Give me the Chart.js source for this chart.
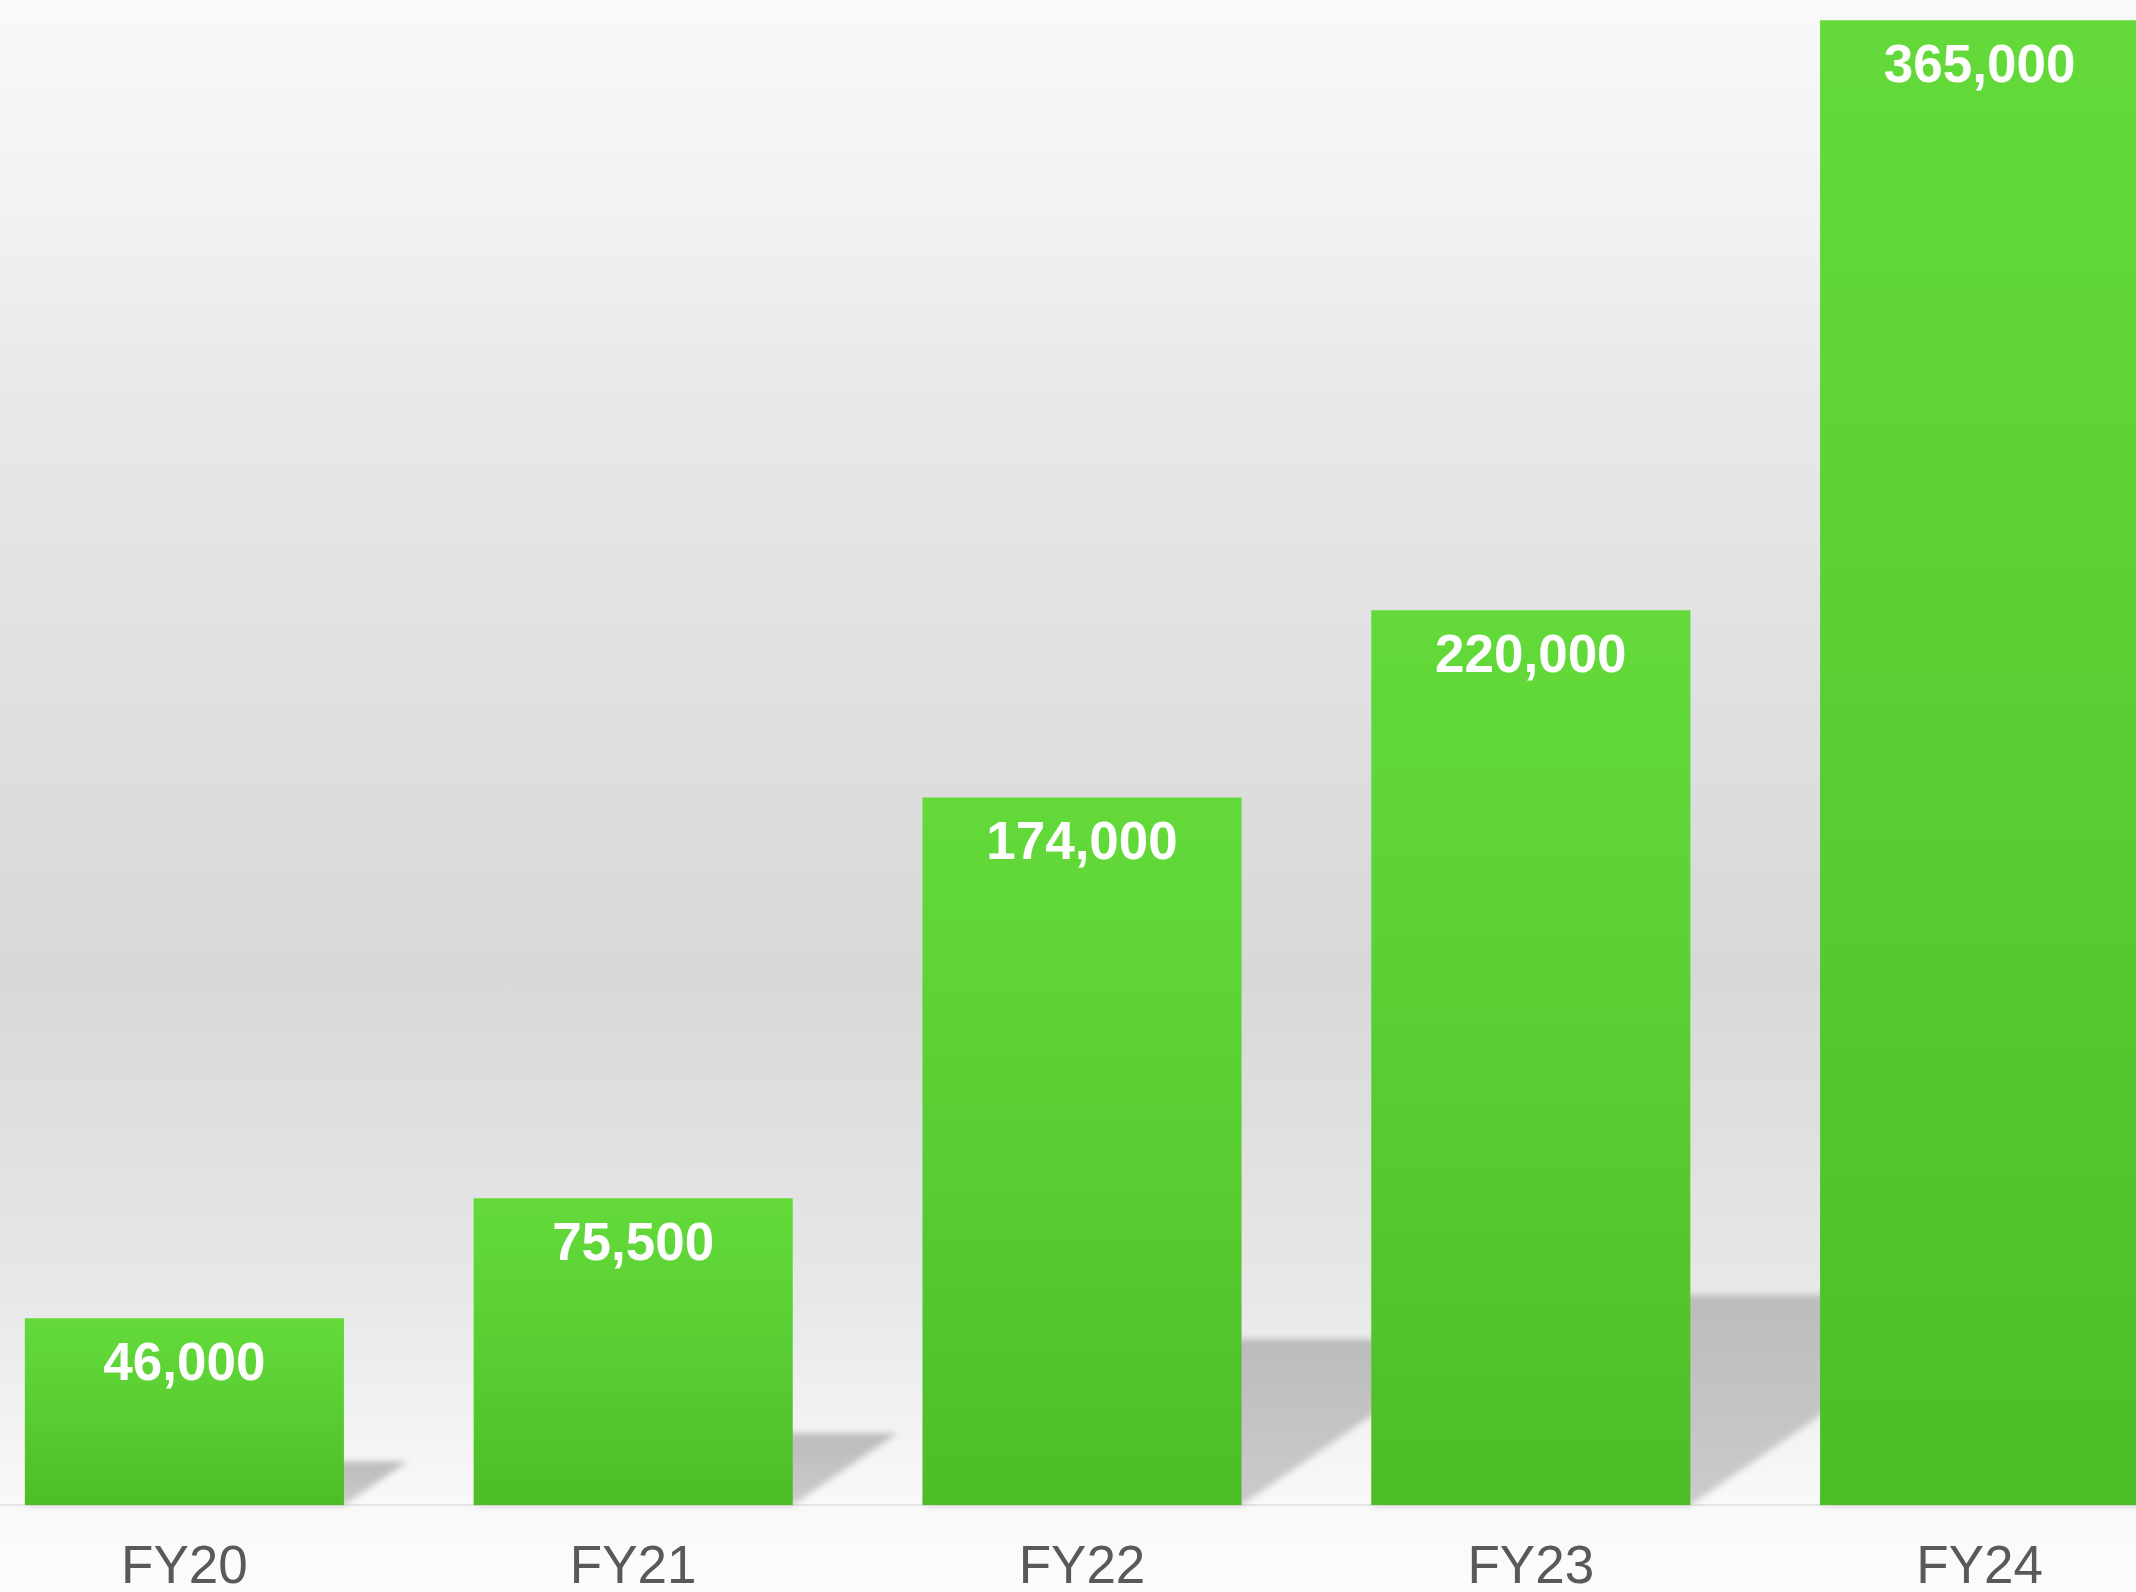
<!DOCTYPE html>
<html>
<head>
<meta charset="utf-8">
<script src="https://cdn.jsdelivr.net/npm/chart.js@4/dist/chart.umd.min.js"></script>
<style>
  html, body { margin: 0; padding: 0; }
  body {
    width: 2136px; height: 1592px; overflow: hidden; position: relative;
    background: linear-gradient(to bottom,
      #f9f9f9 0%, #f2f2f2 12.6%, #e8e8e8 25.1%, #d8d8d8 61.2%,
      #e8e8e8 81.7%, #f9f9f9 94.5%, #fcfcfc 100%);
  }
  #wrap { position: absolute; left: -40.4px; top: 0; width: 2244px; height: 1632px; }
</style>
</head>
<body>
<div id="wrap"><canvas id="c"></canvas></div>
<script>
const categories = ["FY20", "FY21", "FY22", "FY23", "FY24"];
const values = [46000, 75500, 174000, 220000, 365000];
const yMax = 370000;

const FONT = "'Liberation Sans', Arial, sans-serif";

function barGradient(context) {
  const chart = context.chart;
  const area = chart.chartArea;
  if (!area || context.dataIndex === undefined) return '#58c830';
  const ys = chart.scales.y;
  const top = ys.getPixelForValue(context.raw);
  const base = ys.getPixelForValue(0);
  if (!isFinite(top) || !isFinite(base) || base - top < 1) return '#58c830';
  const g = chart.ctx.createLinearGradient(0, top, 0, base);
  g.addColorStop(0, '#63da3a');
  g.addColorStop(0.45, '#5acf33');
  g.addColorStop(1, '#4dbd27');
  return g;
}

const shadowPlugin = {
  id: 'barShadows',
  beforeDatasetsDraw(chart) {
    const ctx = chart.ctx;
    const meta = chart.getDatasetMeta(0);
    ctx.save();
    ctx.filter = 'blur(3px)';
    meta.data.forEach((bar) => {
      const p = bar.getProps(['x', 'y', 'base', 'width'], true);
      const h = p.base - p.y;
      const dy = 0.235 * h;
      const dx = 0.34 * h;
      const left = p.x - p.width / 2;
      const right = p.x + p.width / 2;
      const g = ctx.createLinearGradient(0, p.base - dy, 0, p.base);
      g.addColorStop(0, '#bcbcbc');
      g.addColorStop(1, '#cbcbcb');
      ctx.fillStyle = g;
      ctx.beginPath();
      ctx.moveTo(left, p.base);
      ctx.lineTo(right, p.base);
      ctx.lineTo(right + dx, p.base - dy);
      ctx.lineTo(left + dx, p.base - dy);
      ctx.closePath();
      ctx.fill();
    });
    ctx.restore();
  }
};

const valueLabelPlugin = {
  id: 'valueLabels',
  afterDatasetsDraw(chart) {
    const ctx = chart.ctx;
    const meta = chart.getDatasetMeta(0);
    const ds = chart.data.datasets[0].data;
    ctx.save();
    ctx.font = 'bold 53px ' + FONT;
    ctx.fillStyle = '#ffffff';
    ctx.textAlign = 'center';
    ctx.textBaseline = 'alphabetic';
    meta.data.forEach((bar, i) => {
      const p = bar.getProps(['x', 'y'], true);
      ctx.fillText(ds[i].toLocaleString('en-US'), p.x, p.y + 62);
    });
    ctx.restore();
  }
};

new Chart(document.getElementById('c'), {
  type: 'bar',
  data: {
    labels: categories,
    datasets: [{
      data: values,
      backgroundColor: barGradient,
      borderWidth: 0,
      categoryPercentage: 1.0,
      barPercentage: 0.711
    }]
  },
  options: {
    responsive: true,
    maintainAspectRatio: false,
    animation: false,
    layout: { padding: 0 },
    plugins: { legend: { display: false }, tooltip: { enabled: false }, title: { display: false } },
    scales: {
      x: {
        grid: { display: false, drawTicks: false },
        border: { display: true, color: '#e4e4e4', width: 2 },
        ticks: {
          color: '#595959',
          font: { family: FONT, size: 53, lineHeight: 0.88 },
          padding: 40,
          maxRotation: 0
        }
      },
      y: {
        display: false,
        min: 0,
        max: yMax,
        grid: { display: false }
      }
    }
  },
  plugins: [shadowPlugin, valueLabelPlugin]
});
</script>
</body>
</html>
